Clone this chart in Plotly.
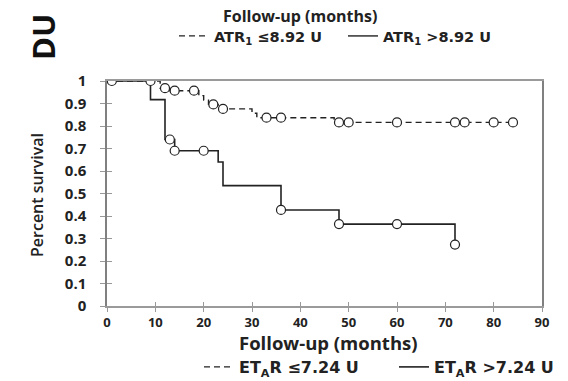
import plotly.graph_objects as go

# ---------------- data ----------------
# Kaplan-Meier step curves (time in months, survival fraction)
low_times = [0, 11, 13, 19, 20, 21, 23, 30, 31, 47, 84]
low_surv = [1.0, 0.968, 0.957, 0.935, 0.915, 0.896, 0.876, 0.857, 0.837, 0.816, 0.816]
low_cens_t = [12, 14, 18, 22, 24, 33, 36, 48, 50, 60, 72, 74, 80, 84]
low_cens_s = [0.968, 0.957, 0.957, 0.896, 0.876, 0.837, 0.837, 0.816, 0.816, 0.816, 0.816, 0.816, 0.816, 0.816]

high_times = [0, 9, 12, 14, 23, 24, 36, 48, 72]
high_surv = [1.0, 0.917, 0.74, 0.69, 0.64, 0.535, 0.427, 0.364, 0.273]
high_cens_t = [1, 9, 13, 14, 20, 36, 48, 60, 72]
high_cens_s = [1.0, 1.0, 0.74, 0.69, 0.69, 0.427, 0.364, 0.364, 0.273]

x_ticks = [0, 10, 20, 30, 40, 50, 60, 70, 80, 90]
y_ticks = [0, 0.1, 0.2, 0.3, 0.4, 0.5, 0.6, 0.7, 0.8, 0.9, 1]
y_tick_labels = ["0", "0.1", "0.2", "0.3", "0.4", "0.5", "0.6", "0.7", "0.8", "0.9", "1"]

low_name = "ET<sub>A</sub>R ≤7.24 U"
high_name = "ET<sub>A</sub>R >7.24 U"
top_low_name = "ATR<sub>1</sub> ≤8.92 U"
top_high_name = "ATR<sub>1</sub> >8.92 U"
x_title = "Follow-up (months)"
y_title = "Percent survival"
panel_label = "DU"

FONT = "Open Sans"
LFONT = "DejaVu Sans"
# page has an 8px body margin, so the figure is drawn 8px in from the window edge
OFF = 8
WIN_W, WIN_H = 568, 381
W, H = WIN_W - OFF, WIN_H - OFF
# plot area in window pixels
PL, PR, PT, PB = 107, 542, 81, 306
L, R, T, B = PL - OFF, WIN_W - PR, PT - OFF, WIN_H - PB
PW, PH = PR - PL, PB - PT


def px(xp):
    return (xp - PL) / PW


def py(yp):
    return (PB - yp) / PH


fig = go.Figure()

DASH = "6px,4px"
fig.add_trace(go.Scatter(x=low_times, y=low_surv, mode="lines", line_shape="hv",
                         line=dict(color="#222222", width=1.4, dash=DASH),
                         name=low_name, legend="legend"))
fig.add_trace(go.Scatter(x=high_times, y=high_surv, mode="lines", line_shape="hv",
                         line=dict(color="#222222", width=1.6),
                         name=high_name, legend="legend"))
fig.add_trace(go.Scatter(x=low_cens_t, y=low_cens_s, mode="markers",
                         marker=dict(symbol="circle", size=9, color="white",
                                     line=dict(color="#222222", width=1.2)),
                         showlegend=False))
fig.add_trace(go.Scatter(x=high_cens_t, y=high_cens_s, mode="markers",
                         marker=dict(symbol="circle", size=9, color="white",
                                     line=dict(color="#222222", width=1.2)),
                         showlegend=False))
# legend entries of the panel above (only the key is visible)
fig.add_trace(go.Scatter(x=[None], y=[None], mode="lines",
                         line=dict(color="#222222", width=1.2, dash=DASH),
                         name=top_low_name, legend="legend2"))
fig.add_trace(go.Scatter(x=[None], y=[None], mode="lines",
                         line=dict(color="#222222", width=1.4),
                         name=top_high_name, legend="legend2"))
# overlay axes carrying the inner half of the cross ticks
fig.add_trace(go.Scatter(x=[None], y=[None], xaxis="x2", yaxis="y2", showlegend=False))

fig.update_layout(
    width=W, height=H,
    margin=dict(l=L, r=R, t=T, b=B, pad=0, autoexpand=False),
    paper_bgcolor="white", plot_bgcolor="white",
    font=dict(family=FONT, color="#222222"),
    xaxis=dict(range=[0, 90], tickvals=x_ticks, ticks="outside", ticklen=4,
               tickcolor="#999999", showgrid=False, zeroline=False,
               showline=True, linecolor="#9a9a9a", linewidth=1.5, mirror=True,
               ticklabelstandoff=0, automargin=False,
               tickfont=dict(family=FONT, size=13, color="#222222", weight="bold")),
    yaxis=dict(range=[0, 1], tickvals=y_ticks, ticktext=y_tick_labels,
               ticks="outside", ticklen=5, tickcolor="#999999",
               ticklabelstandoff=11, automargin=False,
               showgrid=False, zeroline=False, showline=True,
               linecolor="#808080", linewidth=1.5, mirror=True,
               tickfont=dict(family=FONT, size=15, color="#222222", weight="bold")),
    xaxis2=dict(range=[0, 90], overlaying="x", anchor="y2", tickvals=x_ticks,
                ticks="inside", ticklen=4, tickcolor="#999999",
                showticklabels=False, showgrid=False, zeroline=False, showline=False),
    yaxis2=dict(range=[0, 1], overlaying="y", anchor="x2", tickvals=y_ticks,
                ticks="inside", ticklen=5, tickcolor="#999999",
                showticklabels=False, showgrid=False, zeroline=False, showline=False),
    legend=dict(orientation="h", x=px(394), xanchor="center", y=py(367), yanchor="middle",
                font=dict(family=LFONT, size=16, color="#222222", weight="bold"),
                bgcolor="rgba(0,0,0,0)", itemwidth=30, entrywidth=150,
                entrywidthmode="pixels"),
    legend2=dict(orientation="h", x=px(343), xanchor="center", y=py(36), yanchor="middle",
                 font=dict(family=LFONT, size=14.5, color="#222222", weight="bold"),
                 bgcolor="rgba(0,0,0,0)", itemwidth=30, entrywidth=124,
                 entrywidthmode="pixels"),
    showlegend=True,
)

fig.add_annotation(text="<b>" + x_title + "</b>", xref="paper", yref="paper",
                   x=px(328), y=py(342), xanchor="center", yanchor="middle", showarrow=False,
                   font=dict(family=FONT, size=18.5, color="#222222"))
fig.add_annotation(text="<b>" + x_title + "</b>", xref="paper", yref="paper",
                   x=px(300), y=py(16), xanchor="center", yanchor="middle", showarrow=False,
                   font=dict(family=FONT, size=16, color="#222222"))
fig.add_annotation(text="<b>" + panel_label + "</b>", xref="paper", yref="paper",
                   x=px(43), y=py(37), xanchor="center", yanchor="middle",
                   showarrow=False, textangle=-90,
                   font=dict(family=FONT, size=31, color="#111111"))
fig.add_annotation(text=y_title, xref="paper", yref="paper",
                   x=px(37), y=py(195), xanchor="center", yanchor="middle",
                   showarrow=False, textangle=-90,
                   font=dict(family=FONT, size=16, color="#222222", weight=600))

fig.write_html("out.html")
